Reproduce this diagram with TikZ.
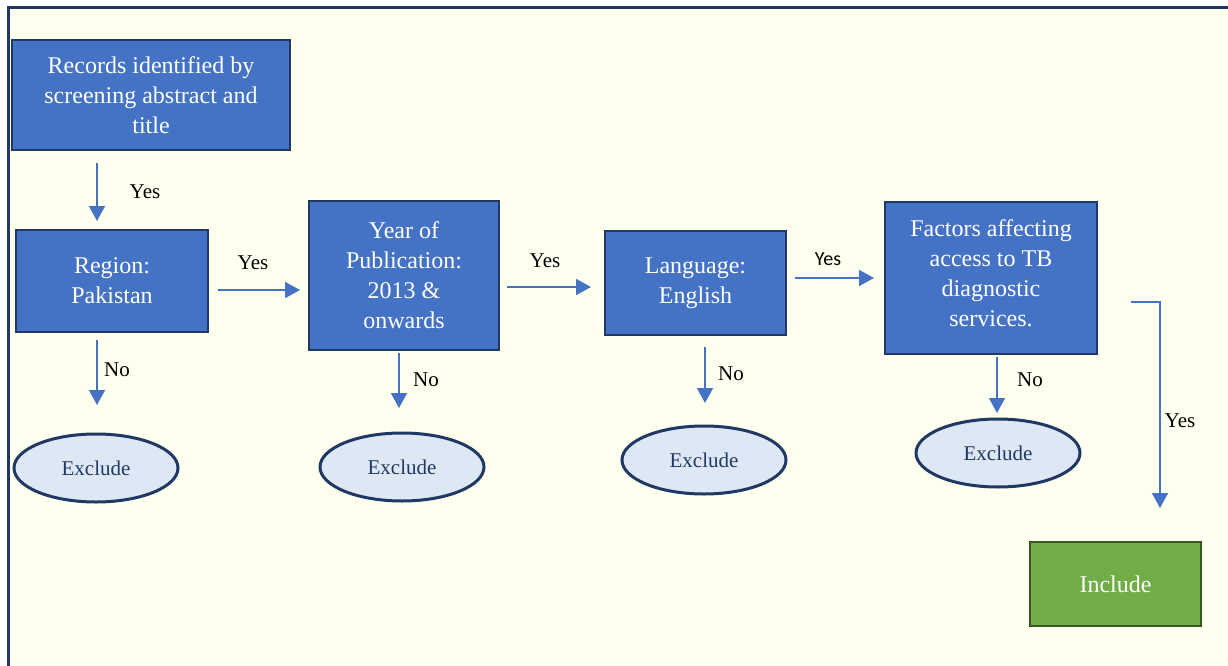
\documentclass[tikz,border=0pt]{standalone}
\usepackage{fontspec}
\setmainfont{Liberation Serif}
\newfontfamily\calibrifont{Carlito}
\usetikzlibrary{arrows.meta,shapes.geometric}
\definecolor{bluefill}{HTML}{4472C4}
\definecolor{navy}{HTML}{1F3864}
\definecolor{bgyellow}{HTML}{FFFFF0}
\definecolor{ellfill}{HTML}{DEE8F5}
\definecolor{greenfill}{HTML}{70AD47}
\definecolor{greendark}{HTML}{375623}
\tikzset{
 bluebox/.style={draw=navy, line width=2.6pt, fill=bluefill, text=white, font=\fontsize{24}{30}\selectfont, align=center, inner sep=0pt},
 boxtext/.style={text=white, font=\fontsize{24}{30}\selectfont, align=center, inner sep=0pt},
 greenbox/.style={draw=greendark, line width=2.6pt, fill=greenfill, text=white, font=\fontsize{24}{30}\selectfont, align=center, inner sep=0pt},
 excl/.style={ellipse, draw=navy, line width=3pt, fill=ellfill, text=navy, font=\fontsize{21}{25}\selectfont, minimum width=164pt, minimum height=68pt, inner sep=0pt},
 flow/.style={draw=bluefill, line width=1.6pt, -{Triangle[length=15pt,width=16pt]}},
 lbl/.style={font=\fontsize{21}{25}\selectfont, text=black, inner sep=0pt},
}
\begin{document}
\begin{tikzpicture}[x=1pt,y=-1pt]
\useasboundingbox (0,0) rectangle (1228,666);
\fill[white] (0,0) rectangle (1228,666);
\fill[bgyellow] (8,8) rectangle (1228,666);
\draw[navy, line width=3pt] (8,667) -- (8,8) -- (1229,8);

% boxes
\node[bluebox, minimum width=278pt, minimum height=110pt] (rec) at (151,95) {Records identified by\\screening abstract and\\title};
\node[bluebox, minimum width=192pt, minimum height=102pt] (reg) at (112,281) {Region:\\Pakistan};
\node[bluebox, minimum width=190pt, minimum height=149pt] (year) at (404,275.5) {Year of\\Publication:\\2013 \&\\onwards};
\node[bluebox, minimum width=181pt, minimum height=104pt] (lang) at (695.5,283) {Language:\\English};
\node[bluebox, minimum width=212pt, minimum height=152pt] (fact) at (991,278) {};
\node[boxtext] (facttxt) at (991,273) {Factors affecting\\access to TB\\diagnostic\\services.};
\node[greenbox, minimum width=171pt, minimum height=84pt] (inc) at (1115.5,584) {Include};

% ellipses
\node[excl] (ex1) at (96,468) {Exclude};
\node[excl] (ex2) at (402,467) {Exclude};
\node[excl] (ex3) at (704,460) {Exclude};
\node[excl] (ex4) at (998,453) {Exclude};

% connector ends
\coordinate (a1s) at (97,163); \coordinate (a1e) at (97,221);
\coordinate (a2s) at (97,340); \coordinate (a2e) at (97,405);
\coordinate (a3s) at (218,290); \coordinate (a3e) at (300,290);
\coordinate (a4s) at (399,353); \coordinate (a4e) at (399,408);
\coordinate (a5s) at (507,287); \coordinate (a5e) at (591,287);
\coordinate (a6s) at (705,347); \coordinate (a6e) at (705,403);
\coordinate (a7s) at (795,278); \coordinate (a7e) at (874,278);
\coordinate (a8s) at (997,357); \coordinate (a8e) at (997,413);
\coordinate (a9s) at (1131,302); \coordinate (a9e) at (1160,508);

\draw[flow] (a1s) -- (a1e);
\draw[flow] (a2s) -- (a2e);
\draw[flow] (a3s) -- (a3e);
\draw[flow] (a4s) -- (a4e);
\draw[flow] (a5s) -- (a5e);
\draw[flow] (a6s) -- (a6e);
\draw[flow] (a7s) -- (a7e);
\draw[flow] (a8s) -- (a8e);
\draw[flow] (a9s) -| (a9e);

% labels
\node[lbl] (y1) at (145,192) {Yes};
\node[lbl] (n1) at (117,370) {No};
\node[lbl] (y2) at (253,263) {Yes};
\node[lbl] (n2) at (426,380) {No};
\node[lbl] (y3) at (545,261) {Yes};
\node[lbl] (n3) at (731,374) {No};
\node[lbl, font=\calibrifont\fontsize{20}{24}\selectfont] (y4) at (828,259) {Yes};
\node[lbl] (n4) at (1030,380) {No};
\node[lbl] (y5) at (1180,421) {Yes};
\end{tikzpicture}
\end{document}
